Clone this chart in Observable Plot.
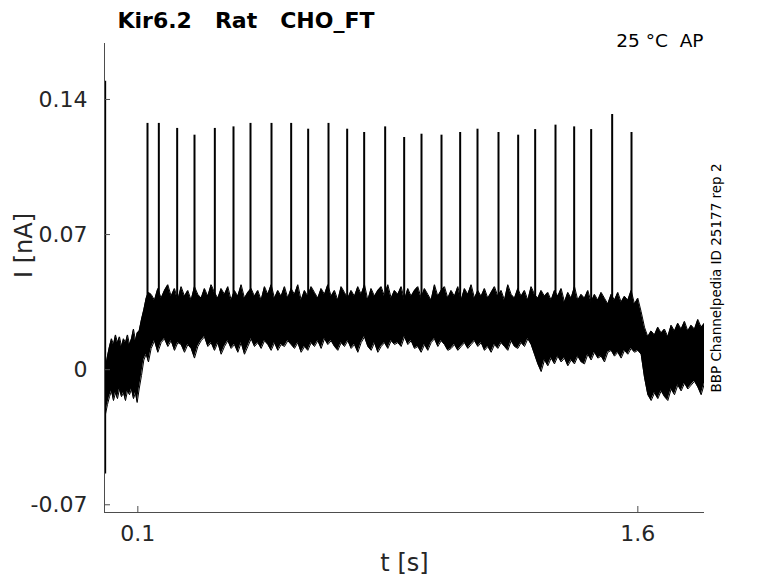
<!DOCTYPE html>
<html>
<head>
<meta charset="utf-8">
<script src="https://cdn.jsdelivr.net/npm/d3@7"></script>
<script src="https://cdn.jsdelivr.net/npm/@observablehq/plot@0.6"></script>
<style>
  html, body { margin: 0; padding: 0; background: #fff; }
  #chart svg { display: block; }
</style>
</head>
<body>
<div id="chart"></div>
<script>
// ---- data (envelope of the overlaid sweeps, nA) ----
// before the step
const preT  = [0.003,0.009,0.015,0.021,0.027,0.033,0.039,0.045,0.051,0.057,0.063,0.069,0.075,0.081,0.087,0.093,0.098];
const preHi = [0.001,0.007,0.012,0.016,0.013,0.018,0.014,0.017,0.012,0.016,0.014,0.018,0.013,0.016,0.021,0.015,0.019];
const preLo = [-0.023,-0.018,-0.014,-0.011,-0.016,-0.012,-0.015,-0.010,-0.014,-0.012,-0.016,-0.011,-0.013,-0.010,-0.015,-0.012,-0.017];
// rising step
const riseT  = [0.104,0.111,0.118,0.125,0.132];
const riseHi = [0.020,0.026,0.031,0.037,0.040];
const riseLo = [-0.010,-0.003,0.005,0.008,0.004];
// plateau
const platT = [
  0.14,0.15,0.16,0.17,0.18,0.19,0.20,0.21,0.22,0.23,
  0.24,0.25,0.26,0.27,0.28,0.29,0.30,0.31,0.32,0.33,
  0.34,0.35,0.36,0.37,0.38,0.39,0.40,0.41,0.42,0.43,
  0.44,0.45,0.46,0.47,0.48,0.49,0.50,0.51,0.52,0.53,
  0.54,0.55,0.56,0.57,0.58,0.59,0.60,0.61,0.62,0.63,
  0.64,0.65,0.66,0.67,0.68,0.69,0.70,0.71,0.72,0.73,
  0.74,0.75,0.76,0.77,0.78,0.79,0.80,0.81,0.82,0.83,
  0.84,0.85,0.86,0.87,0.88,0.89,0.90,0.91,0.92,0.93,
  0.94,0.95,0.96,0.97,0.98,0.99,1.00,1.01,1.02,1.03,
  1.04,1.05,1.06,1.07,1.08,1.09,1.10,1.11,1.12,1.13,
  1.14,1.15,1.16,1.17,1.18,1.19,1.20,1.21,1.22,1.23,
  1.24,1.25,1.26,1.27,1.28,1.29,1.30,1.31,1.32,1.33,
  1.34,1.35,1.36,1.37,1.38,1.39,1.40,1.41,1.42,1.43,
  1.44,1.45,1.46,1.47,1.48,1.49,1.50,1.51,1.52,1.53,
  1.54,1.55,1.56,1.57,1.58,1.59,1.60,1.61];
const platHi = [
  0.039,0.036,0.042,0.037,0.041,0.044,0.038,0.042,0.036,0.043,
  0.038,0.041,0.036,0.043,0.039,0.037,0.042,0.038,0.044,0.040,
  0.037,0.042,0.039,0.043,0.036,0.041,0.038,0.044,0.037,0.040,
  0.042,0.038,0.041,0.036,0.043,0.039,0.044,0.037,0.041,0.038,
  0.043,0.037,0.042,0.039,0.044,0.036,0.041,0.038,0.043,0.040,
  0.037,0.042,0.039,0.044,0.038,0.041,0.036,0.043,0.040,0.037,
  0.041,0.038,0.043,0.039,0.044,0.036,0.042,0.038,0.041,0.043,
  0.038,0.044,0.037,0.041,0.039,0.043,0.036,0.042,0.038,0.041,
  0.043,0.037,0.042,0.039,0.036,0.044,0.038,0.041,0.043,0.037,
  0.041,0.038,0.043,0.036,0.042,0.039,0.044,0.037,0.041,0.038,
  0.042,0.037,0.040,0.043,0.038,0.041,0.036,0.044,0.039,0.037,
  0.042,0.038,0.041,0.036,0.043,0.039,0.037,0.041,0.038,0.040,
  0.036,0.041,0.038,0.042,0.035,0.040,0.037,0.043,0.036,0.039,
  0.037,0.041,0.035,0.039,0.036,0.040,0.037,0.034,0.039,0.036,
  0.040,0.035,0.038,0.036,0.041,0.034,0.037,0.030];
const platLo = [
  0.011,0.015,0.009,0.014,0.016,0.012,0.015,0.010,0.014,0.013,
  0.009,0.013,0.011,0.006,0.012,0.015,0.017,0.012,0.014,0.010,
  0.014,0.008,0.012,0.015,0.011,0.013,0.009,0.014,0.008,0.012,
  0.016,0.012,0.014,0.011,0.015,0.013,0.010,0.014,0.010,0.013,
  0.012,0.015,0.013,0.011,0.014,0.009,0.012,0.010,0.014,0.012,
  0.015,0.011,0.016,0.013,0.015,0.012,0.010,0.014,0.012,0.015,
  0.011,0.013,0.009,0.014,0.017,0.012,0.010,0.014,0.009,0.012,
  0.014,0.011,0.015,0.013,0.014,0.012,0.017,0.013,0.015,0.011,
  0.012,0.009,0.013,0.010,0.014,0.016,0.012,0.015,0.013,0.010,
  0.011,0.013,0.010,0.012,0.014,0.011,0.013,0.015,0.012,0.014,
  0.010,0.012,0.009,0.013,0.011,0.014,0.012,0.010,0.015,0.012,
  0.011,0.014,0.012,0.016,0.013,0.008,0.003,-0.001,0.005,0.002,
  0.006,0.003,0.007,0.004,0.006,0.002,0.005,0.003,0.007,0.004,
  0.003,0.008,0.005,0.009,0.006,0.007,0.004,0.009,0.010,0.007,
  0.009,0.006,0.010,0.008,0.011,0.009,0.010,0.008];
// after the step down
const postT  = [1.62,1.63,1.64,1.65,1.66,1.67,1.68,1.69,1.70,1.71,1.72,1.73,1.74,1.75,1.76,1.77,1.78,1.79,1.80];
const postHi = [0.022,0.017,0.020,0.018,0.022,0.019,0.021,0.017,0.023,0.020,0.024,0.021,0.025,0.020,0.023,0.021,0.026,0.022,0.024];
const postLo = [-0.004,-0.013,-0.016,-0.012,-0.015,-0.011,-0.014,-0.016,-0.010,-0.013,-0.008,-0.011,-0.007,-0.010,-0.008,-0.006,-0.009,-0.013,-0.007];

// action-potential-like spikes (time s, peak nA)
const spikeT = [0.129,0.163,0.218,0.270,0.331,0.387,0.438,0.501,0.560,0.611,0.672,0.728,0.779,0.842,0.899,0.951,
  1.011,1.067,1.119,1.182,1.241,1.292,1.353,1.409,1.460,1.523,1.581];
const spikePeak = [0.1276,0.1276,0.1250,0.1215,0.1250,0.1258,0.1276,0.1276,0.1276,0.1246,0.1276,0.1246,0.1229,0.1258,0.1203,0.1220,
  0.1215,0.1229,0.1246,0.1229,0.1215,0.1244,0.1267,0.1258,0.1244,0.1322,0.1229];
const spikeBase = 0.032;

// capacitive transient at sweep start
const transientT = 0.002;
const transientLo = -0.054;
const transientHi = 0.1495;

const xTicks = [0.1, 1.6];
const yTicks = [-0.07, 0, 0.07, 0.14];
const xDomain = [0, 1.8];
const yDomain = [-0.074, 0.169];

const titleText = "Kir6.2\u00a0\u00a0\u00a0Rat\u00a0\u00a0\u00a0CHO_FT";
const condText = "25 °C\u00a0\u00a0AP";
const sideText = "BBP Channelpedia ID 25177 rep 2";
const xLabel = "t [s]";
const yLabel = "I [nA]";

// ---- tables built from the arrays ----
const bandT = [...preT, ...riseT, ...platT, ...postT];
const bandHi = [...preHi, ...riseHi, ...platHi, ...postHi];
const bandLo = [...preLo, ...riseLo, ...platLo, ...postLo];
const band = bandT.map((t, i) => ({t, hi: bandHi[i], lo: bandLo[i]}));
const spikes = spikeT.map((t, i) => ({t, peak: spikePeak[i], base: spikeBase}));
const transient = [{t: transientT, lo: transientLo, hi: transientHi}];

const ink = "#262626";
const axisCol = "#4d4d4d";

const chart = Plot.plot({
  width: 778,
  height: 583,
  marginLeft: 104,
  marginRight: 74,
  marginTop: 43,
  marginBottom: 71,
  style: {fontFamily: "DejaVu Sans", background: "#fff", color: ink},
  x: {domain: xDomain, ticks: xTicks},
  y: {domain: yDomain, ticks: yTicks},
  marks: [
    Plot.areaY(band, {x: "t", y1: "lo", y2: "hi", fill: "#000", clip: true}),
    Plot.line(band, {x: "t", y: "hi", stroke: "#000", strokeWidth: 1, clip: true}),
    Plot.line(band, {x: "t", y: "lo", stroke: "#000", strokeWidth: 1, clip: true}),
    Plot.ruleX(spikes, {x: "t", y1: "base", y2: "peak", stroke: "#000", strokeWidth: 2}),
    Plot.ruleX(transient, {x: "t", y1: "lo", y2: "hi", stroke: "#000", strokeWidth: 2}),
    Plot.ruleX([xDomain[0]], {stroke: axisCol, strokeWidth: 1}),
    Plot.ruleY([yDomain[0]], {stroke: axisCol, strokeWidth: 1}),
    Plot.axisX({ticks: xTicks, tickSize: -6, stroke: axisCol, text: null, label: null}),
    Plot.axisX({ticks: xTicks, tickSize: 0, tickPadding: 13, fontSize: 22, fill: ink, label: null, tickFormat: d => String(d)}),
    Plot.axisY({ticks: yTicks, tickSize: -6, stroke: axisCol, text: null, label: null}),
    Plot.axisY({ticks: yTicks, tickSize: 0, tickPadding: 17, fontSize: 22, fill: ink, label: null, tickFormat: d => d === 0 ? "0" : String(d)}),
    Plot.text([xLabel], {frameAnchor: "bottom", dy: 58, fontSize: 24, fill: ink, lineAnchor: "bottom"}),
    Plot.text([yLabel], {frameAnchor: "left", dx: -80, rotate: -90, fontSize: 24, fill: ink}),
    Plot.text([titleText], {frameAnchor: "top-left", dx: 13, dy: -16, fontSize: 22, fontWeight: "bold", fill: "#000", textAnchor: "start", lineAnchor: "bottom"}),
    Plot.text([condText], {frameAnchor: "top-right", dx: -1, dy: 3, fontSize: 18.5, fill: "#000", textAnchor: "end", lineAnchor: "bottom"}),
    Plot.text([sideText], {frameAnchor: "right", dx: 12, dy: 0, rotate: -90, fontSize: 13.5, fill: "#000", textAnchor: "middle"})
  ]
});
document.getElementById("chart").appendChild(chart);
</script>
</body>
</html>
